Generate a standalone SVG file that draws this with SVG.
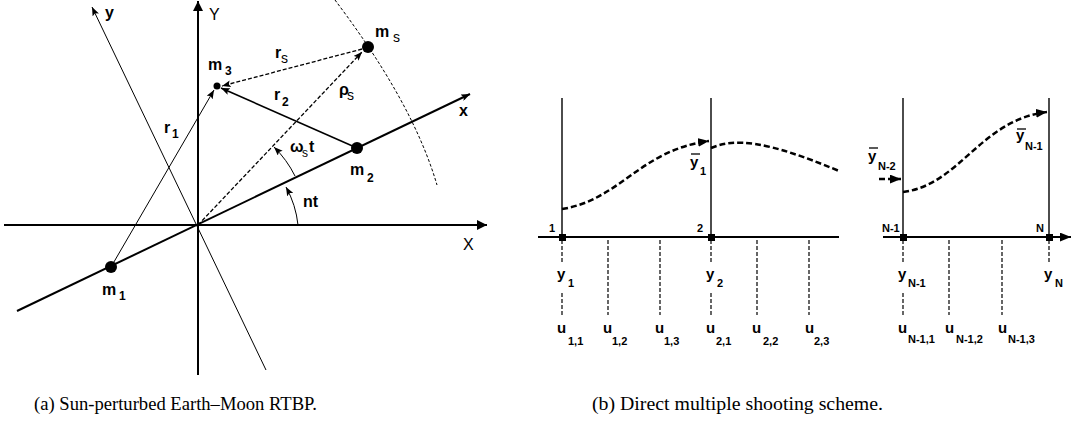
<svg xmlns="http://www.w3.org/2000/svg" width="1073" height="431" viewBox="0 0 1073 431">
<style>
.t{font-family:"Liberation Sans",Arial,sans-serif;fill:#000}
.lb{font-size:16px;font-weight:bold}
.ln{font-size:16px}
.sb{font-size:12px;font-weight:bold}
.rb{font-size:15px;font-weight:bold}
.rs{font-size:11px;font-weight:bold}
.cap{font-family:"Liberation Serif","Times New Roman",serif;font-size:19px;fill:#000}
.ax{stroke:#000;stroke-width:2;fill:none}
.thin{stroke:#000;stroke-width:1;fill:none}
.med{stroke:#000;stroke-width:1.6;fill:none}
.dsh{stroke:#000;stroke-width:1.3;fill:none;stroke-dasharray:4 2}
.dt{stroke:#000;stroke-width:1;fill:none;stroke-dasharray:3 2}
.cur{stroke:#000;stroke-width:2.5;fill:none;stroke-dasharray:6 3}
.vd{stroke:#000;stroke-width:1.2;fill:none;stroke-dasharray:4 2}
.bar{stroke:#000;stroke-width:1.3}
</style>
<defs>
<marker id="aBig" viewBox="0 0 10 10" refX="10" refY="5" markerWidth="11" markerHeight="10" markerUnits="userSpaceOnUse" orient="auto"><path d="M0,0 L10,5 L0,10 z"/></marker>
<marker id="aS" viewBox="0 0 10 8" refX="10" refY="4" markerWidth="9" markerHeight="7" markerUnits="userSpaceOnUse" orient="auto"><path d="M0,0 L10,4 L0,8 L2,4 z"/></marker>
<marker id="aR" viewBox="0 0 10 8" refX="10" refY="4" markerWidth="11" markerHeight="9" markerUnits="userSpaceOnUse" orient="auto"><path d="M0,0 L10,4 L0,8 z"/></marker>
</defs>
<rect width="1073" height="431" fill="#fff"/>

<!-- (a) left panel -->
<g id="connectors-a">
  <line class="ax" x1="198" y1="375" x2="198" y2="1" marker-end="url(#aBig)"/>
  <line class="ax" x1="4" y1="225" x2="487" y2="225" marker-end="url(#aBig)"/>
  <line class="ax" x1="17" y1="311" x2="470" y2="94" marker-end="url(#aS)"/>
  <line class="thin" x1="266" y1="370" x2="92" y2="7" marker-end="url(#aS)"/>
  <line class="thin" x1="111" y1="267" x2="214" y2="90" marker-end="url(#aS)"/>
  <line class="med" x1="357" y1="148" x2="221" y2="88" marker-end="url(#aS)"/>
  <line class="dsh" x1="362" y1="49" x2="222" y2="86" marker-end="url(#aS)"/>
  <line class="dsh" x1="198" y1="225" x2="362" y2="52" marker-end="url(#aS)"/>
  <path class="dt" d="M335,0 C365,40 415,110 437,185"/>
  <path class="thin" d="M295,176 A108,108 0 0 0 274,147" marker-end="url(#aS)"/>
  <path class="thin" d="M298,225 A100,100 0 0 0 286,187" marker-end="url(#aS)"/>
</g>
<g id="m1"><circle cx="111" cy="267" r="6"/><text class="t lb" x="102" y="295">m</text><text class="t sb" x="119" y="300">1</text></g>
<g id="m2"><circle cx="357" cy="148" r="6"/><text class="t lb" x="350" y="175">m</text><text class="t sb" x="367" y="182">2</text></g>
<g id="m3"><circle cx="217" cy="86" r="3.5"/><text class="t lb" x="208" y="70">m</text><text class="t sb" x="225" y="75">3</text></g>
<g id="ms"><circle cx="368" cy="47" r="6"/><text class="t lb" x="375" y="37">m</text><text class="t sb" x="393" y="42" style="font-size:14px;font-weight:normal">s</text></g>
<g id="labels-a">
  <text class="t ln" x="209" y="20">Y</text>
  <text class="t lb" x="105" y="18">y</text>
  <text class="t lb" x="459" y="116">x</text>
  <text class="t ln" x="463" y="250">X</text>
  <text class="t lb" x="164" y="133">r</text><text class="t sb" x="172" y="138">1</text>
  <text class="t lb" x="274" y="100">r</text><text class="t sb" x="282" y="106">2</text>
  <text class="t lb" x="275" y="58">r</text><text class="t" x="281" y="63" style="font-size:14px">s</text>
  <text class="t lb" x="339" y="95">ρ</text><text class="t" x="347" y="100" style="font-size:14px">s</text>
  <text class="t lb" x="290" y="152">ω</text><text class="t" x="302" y="157" style="font-size:12px">s</text><text class="t lb" x="309" y="152">t</text>
  <text class="t lb" x="303" y="207">nt</text>
</g>

<!-- (b) right panel -->
<g id="connectors-b">
  <line class="ax" x1="538" y1="237" x2="839" y2="237"/>
  <line class="ax" x1="883" y1="237" x2="1071" y2="237" marker-end="url(#aR)"/>
  <line class="thin" x1="562" y1="98" x2="562" y2="237" style="stroke-width:1.4"/>
  <line class="thin" x1="711" y1="98" x2="711" y2="237" style="stroke-width:1.4"/>
  <line class="thin" x1="903" y1="98" x2="903" y2="237" style="stroke-width:1.4"/>
  <line class="thin" x1="1049" y1="98" x2="1049" y2="237" style="stroke-width:1.4"/>
  <path class="vd" d="M562,240 V262 M562,293 V315 M608,240 V315 M660,240 V315 M711,240 V262 M711,293 V315 M757,240 V315 M809,240 V315"/>
  <path class="vd" d="M903,240 V262 M903,293 V315 M949,240 V315 M1002,240 V315 M1049,240 V262"/>
  <path class="cur" d="M562,209 C620,200 640,150 709,141" marker-end="url(#aR)"/>
  <path class="cur" d="M711,148 C735,138 765,140 839,171"/>
  <path class="cur" d="M903,192 C960,185 980,120 1047,112" marker-end="url(#aR)"/>
  <path class="cur" d="M879,179 L901,179" marker-end="url(#aR)"/>
</g>
<g id="node-1"><rect x="559" y="234" width="7" height="7"/><text class="t rs" x="549" y="232">1</text></g>
<g id="node-2"><rect x="708" y="234" width="7" height="7"/><text class="t rs" x="697" y="232">2</text></g>
<g id="node-N-1"><rect x="900" y="234" width="7" height="7"/><text class="t rs" x="882" y="232">N-1</text></g>
<g id="node-N"><rect x="1046" y="234" width="7" height="7"/><text class="t rs" x="1036" y="232">N</text></g>
<g id="labels-b">
  <text class="t rb" x="690" y="167">y</text><line class="bar" x1="691" y1="154" x2="700" y2="154"/><text class="t rs" x="700" y="175">1</text>
  <text class="t rb" x="868" y="161">y</text><line class="bar" x1="869" y1="148" x2="878" y2="148"/><text class="t rs" x="878" y="170">N-2</text>
  <text class="t rb" x="1016" y="140">y</text><line class="bar" x1="1017" y1="129" x2="1026" y2="129"/><text class="t rs" x="1025" y="150">N-1</text>
  <text class="t rb" x="557" y="279">y</text><text class="t rs" x="568" y="287">1</text>
  <text class="t rb" x="706" y="279">y</text><text class="t rs" x="717" y="287">2</text>
  <text class="t rb" x="898" y="279">y</text><text class="t rs" x="908" y="287">N-1</text>
  <text class="t rb" x="1044" y="279">y</text><text class="t rs" x="1055" y="287">N</text>
  <text class="t rb" x="557" y="333">u</text><text class="t rs" x="568" y="345">1,1</text>
  <text class="t rb" x="603" y="333">u</text><text class="t rs" x="612" y="345">1,2</text>
  <text class="t rb" x="655" y="333">u</text><text class="t rs" x="664" y="345">1,3</text>
  <text class="t rb" x="706" y="333">u</text><text class="t rs" x="716" y="345">2,1</text>
  <text class="t rb" x="752" y="333">u</text><text class="t rs" x="763" y="345">2,2</text>
  <text class="t rb" x="805" y="333">u</text><text class="t rs" x="814" y="345">2,3</text>
  <text class="t rb" x="898" y="333">u</text><text class="t rs" x="908" y="343">N-1,1</text>
  <text class="t rb" x="945" y="333">u</text><text class="t rs" x="956" y="343">N-1,2</text>
  <text class="t rb" x="998" y="333">u</text><text class="t rs" x="1008" y="343">N-1,3</text>
</g>

<g id="captions">
  <text class="cap" x="34" y="410" textLength="283" lengthAdjust="spacingAndGlyphs">(a) Sun-perturbed Earth–Moon RTBP.</text>
  <text class="cap" x="592" y="410" textLength="291" lengthAdjust="spacingAndGlyphs">(b) Direct multiple shooting scheme.</text>
</g>
</svg>
